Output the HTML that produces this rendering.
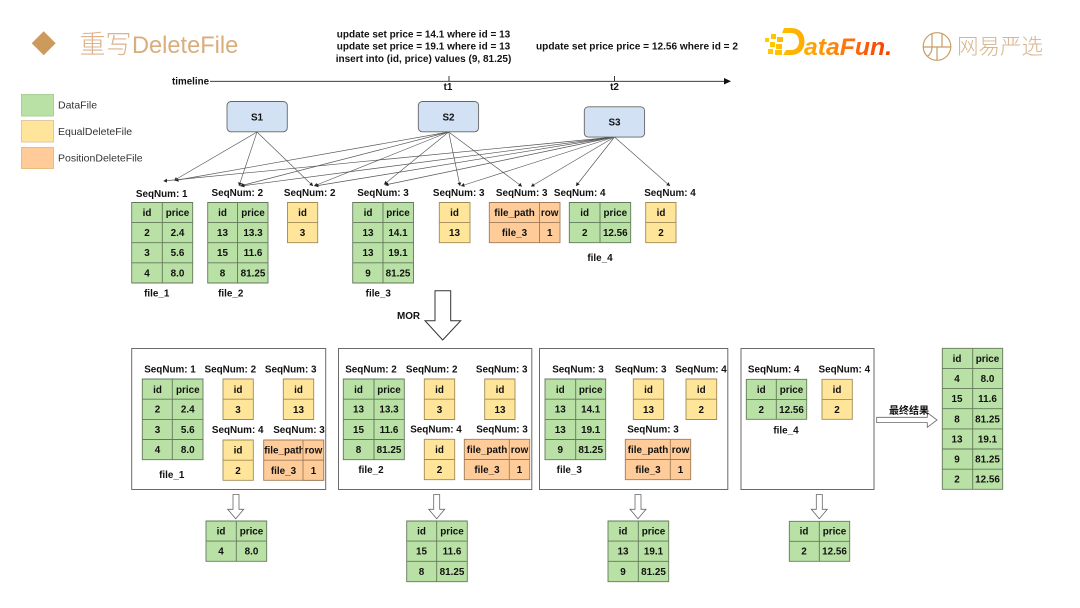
<!DOCTYPE html>
<html lang="zh"><head><meta charset="utf-8"><title>重写DeleteFile</title>
<style>
html,body{margin:0;padding:0;background:#fff;width:1080px;height:608px;overflow:hidden}
svg{display:block;filter:blur(.3px)}
text{font-family:"Liberation Sans","Noto Sans CJK SC",sans-serif;fill:#111}
.t{font-size:9.9px;font-weight:700;text-anchor:middle}
.q{font-size:10px;font-weight:700;text-anchor:middle}
.g{fill:#b9e0a5;stroke:#64785c;stroke-width:.9}
.y{fill:#ffe599;stroke:#a08a55;stroke-width:.9}
.o{fill:#ffcc99;stroke:#a07c58;stroke-width:.9}
.b{fill:#fff;stroke:#6a6a6a;stroke-width:1}
.c{fill:none;stroke:#555;stroke-width:.65;marker-end:url(#a)}
.s{fill:#d3e1f4;stroke:#666;stroke-width:.9}
.w{fill:#fff;stroke:#666;stroke-width:.8}
.l{font-size:10.5px;fill:#333}
</style></head><body>
<svg width="1080" height="608" viewBox="0 0 1080 608" xmlns="http://www.w3.org/2000/svg">
<defs>
<marker id="a" markerUnits="userSpaceOnUse" markerWidth="5" markerHeight="5" refX="3.5" refY="2" orient="auto"><path d="M0 0L3.5 2L0 4z" fill="#222"/></marker>
<linearGradient id="df" x1="765" x2="892" y1="0" y2="0" gradientUnits="userSpaceOnUse"><stop offset="0" stop-color="#ffcc00"/><stop offset=".35" stop-color="#ffa800"/><stop offset=".7" stop-color="#ff6a10"/><stop offset="1" stop-color="#f83a00"/></linearGradient>
</defs>

<!-- title -->
<path d="M43.7 31.3L55.7 43.3L43.7 55.3L31.7 43.3z" fill="#cb9a5c"/>
<text x="79.500" y="53.500" style="font-size:26px;font-weight:300;fill:#dcb38a">重写</text>
<text x="132" y="53" style="font-size:23.600px;fill:#d9ad7c">DeleteFile</text>

<!-- SQL -->
<text class="q" x="423.500" y="37.500">update set price = 14.1 where id = 13</text>
<text class="q" x="423.500" y="49.500">update set price = 19.1 where id = 13</text>
<text class="q" x="423.500" y="62">insert into (id, price) values (9, 81.25)</text>
<text x="637" y="49.500" style="font-size:10.100px;font-weight:700;text-anchor:middle">update set price price = 12.56 where id = 2</text>

<!-- logos -->
<g fill="url(#df)">
<path d="M765 38h4v4h-4zM771 34h5v5h-5zM777 37h6v5h-6zM770 42h5v5h-5zM776 44h6v5h-6zM768 49h5v5h-5zM775 50h7v5h-7z"/>
<path d="M784 28h7c9 0 13.500 6 13.500 13.500s-5 13.500-13.500 13.500h-8l3-5h5c5.500 0 8-4 8-8.500s-2.500-8.500-8-8.500h-9z"/>
</g>
<text x="804" y="55" style="font-size:24px;font-weight:700;font-style:italic;fill:url(#df)" textLength="88" lengthAdjust="spacingAndGlyphs">ataFun.</text>
<g fill="none" stroke="#c99c66" stroke-width="1.200"><circle cx="937" cy="46.500" r="13.800"/><path d="M923.500 47h27.500M932 33.500v13.500q0 7-5 9.500M942 33.500v13.500M937 47v13"/></g>
<text x="957" y="54" style="font-size:21.500px;font-weight:300;fill:#d8b48c">网易严选</text>

<!-- legend -->
<rect x="21.500" y="94.500" width="32" height="21.500" fill="#b9e0a5" stroke="#a9cf97"/>
<rect x="21.500" y="120.500" width="32" height="21.500" fill="#ffe599" stroke="#dfc8a8"/>
<rect x="21.500" y="147.500" width="32" height="21" fill="#ffcc99" stroke="#e6bf7f"/>
<text class="l" x="58" y="108.300">DataFile</text>
<text class="l" x="58" y="135">EqualDeleteFile</text>
<text class="l" x="58" y="161.700">PositionDeleteFile</text>

<!-- timeline -->
<text x="172" y="84.500" style="font-size:9.800px;font-weight:700">timeline</text>
<path d="M210 81.300H725M449 76V81.300M614.500 76V81.300" stroke="#222" stroke-width=".9" fill="none"/>
<path d="M724 78L731 81.300L724 84.500z" fill="#111"/>
<text class="t" x="448" y="90">t1</text>
<text class="t" x="614.500" y="90">t2</text>

<!-- connectors -->
<path class="c" d="M257 132L174 180.500"/>
<path class="c" d="M257 132L239 186"/>
<path class="c" d="M257 132L313 186"/>
<path class="c" d="M448.700 132L175 180.500"/>
<path class="c" d="M448.700 132L240 186"/>
<path class="c" d="M448.700 132L314 186"/>
<path class="c" d="M448.700 132L384 184.500"/>
<path class="c" d="M448.700 132L460 186"/>
<path class="c" d="M448.700 132L522 186.500"/>
<path class="c" d="M614.500 137L163.500 181"/>
<path class="c" d="M614.500 137L241 186"/>
<path class="c" d="M614.500 137L315 186"/>
<path class="c" d="M614.500 137L385 185"/>
<path class="c" d="M614.500 137L461 186"/>
<path class="c" d="M614.500 137L531 186.500"/>
<path class="c" d="M614.500 137L576 186"/>
<path class="c" d="M614.500 137L670 186"/>

<!-- S nodes -->
<rect class="s" x="227" y="101.500" width="60.300" height="30.300" rx="4"/>
<rect class="s" x="418.300" y="101.500" width="60.300" height="30.300" rx="4"/>
<rect class="s" x="584.300" y="106.800" width="60.300" height="30.300" rx="4"/>
<text class="t" x="257" y="120.500">S1</text>
<text class="t" x="448.500" y="120.500">S2</text>
<text class="t" x="614.500" y="125.500">S3</text>

<!-- top row labels -->
<text class="t" x="161.700" y="197">SeqNum: 1</text>
<text class="t" x="237.300" y="196">SeqNum: 2</text>
<text class="t" x="309.700" y="196">SeqNum: 2</text>
<text class="t" x="383" y="196">SeqNum: 3</text>
<text class="t" x="458.700" y="196">SeqNum: 3</text>
<text class="t" x="521.700" y="196">SeqNum: 3</text>
<text class="t" x="579.700" y="196">SeqNum: 4</text>
<text class="t" x="670" y="196">SeqNum: 4</text>

<!-- top tables -->
<path class="g" d="M131.700 202.500H192.700V283H131.700zM162.300 202.500V283M131.700 222.600H192.700M131.700 242.700H192.700M131.700 262.800H192.700"/>
<text class="t" x="147" y="216">id</text><text class="t" x="177.500" y="216">price</text>
<text class="t" x="147" y="236">2</text><text class="t" x="177.500" y="236">2.4</text>
<text class="t" x="147" y="256">3</text><text class="t" x="177.500" y="256">5.6</text>
<text class="t" x="147" y="276.500">4</text><text class="t" x="177.500" y="276.500">8.0</text>

<path class="g" d="M207.700 202.500H268V283H207.700zM237.500 202.500V283M207.700 222.600H268M207.700 242.700H268M207.700 262.800H268"/>
<text class="t" x="222.500" y="216">id</text><text class="t" x="253" y="216">price</text>
<text class="t" x="222.500" y="236">13</text><text class="t" x="253" y="236">13.3</text>
<text class="t" x="222.500" y="256">15</text><text class="t" x="253" y="256">11.6</text>
<text class="t" x="222.500" y="276.500">8</text><text class="t" x="253" y="276.500">81.25</text>

<path class="y" d="M287.500 202.500H317.700V242.700H287.500zM287.500 222.600H317.700"/>
<text class="t" x="302.500" y="216">id</text><text class="t" x="302.500" y="236">3</text>

<path class="g" d="M352.700 202.500H413.500V283H352.700zM383 202.500V283M352.700 222.600H413.500M352.700 242.700H413.500M352.700 262.800H413.500"/>
<text class="t" x="368" y="216">id</text><text class="t" x="398" y="216">price</text>
<text class="t" x="368" y="236">13</text><text class="t" x="398" y="236">14.1</text>
<text class="t" x="368" y="256">13</text><text class="t" x="398" y="256">19.1</text>
<text class="t" x="368" y="276.500">9</text><text class="t" x="398" y="276.500">81.25</text>

<path class="y" d="M439.300 202.500H470V242.700H439.300zM439.300 222.600H470"/>
<text class="t" x="454.500" y="216">id</text><text class="t" x="454.500" y="236">13</text>

<path class="o" d="M489.300 202.500H560V242.700H489.300zM539.500 202.500V242.700M489.300 222.600H560"/>
<text class="t" x="514.500" y="216">file_path</text><text class="t" x="549.700" y="216">row</text>
<text class="t" x="514.500" y="236">file_3</text><text class="t" x="549.700" y="236">1</text>

<path class="g" d="M569.300 202.500H630.700V242.700H569.300zM600 202.500V242.700M569.300 222.600H630.700"/>
<text class="t" x="584.700" y="216">id</text><text class="t" x="615.300" y="216">price</text>
<text class="t" x="584.700" y="236">2</text><text class="t" x="615.300" y="236">12.56</text>

<path class="y" d="M645.700 202.500H676V242.700H645.700zM645.700 222.600H676"/>
<text class="t" x="661" y="216">id</text><text class="t" x="661" y="236">2</text>

<text class="t" x="156.700" y="296.500">file_1</text>
<text class="t" x="230.700" y="296.500">file_2</text>
<text class="t" x="378.300" y="296.500">file_3</text>
<text class="t" x="600" y="261">file_4</text>

<!-- MOR -->
<text class="t" x="408.500" y="319">MOR</text>
<path d="M435 290.700H450.700V320.700H460.700L442.700 340L425 320.700H435z" fill="#fff" stroke="#333" stroke-width="1"/>

<!-- boxes -->
<rect class="b" x="131.700" y="348.500" width="194" height="141"/>
<rect class="b" x="338.500" y="348.500" width="193.300" height="141"/>
<rect class="b" x="539.500" y="348.500" width="188.300" height="141"/>
<rect class="b" x="741" y="348.500" width="133" height="141"/>

<!-- box 1 -->
<text class="t" x="170" y="372.500">SeqNum: 1</text>
<text class="t" x="230.300" y="372.500">SeqNum: 2</text>
<text class="t" x="290.700" y="372.500">SeqNum: 3</text>
<text class="t" x="237.700" y="433">SeqNum: 4</text>
<text class="t" x="299" y="433">SeqNum: 3</text>
<path class="g" d="M142.300 379H203V459.700H142.300zM172.300 379V459.700M142.300 399.200H203M142.300 419.400H203M142.300 439.500H203"/>
<text class="t" x="157.500" y="392.800">id</text><text class="t" x="187.800" y="392.800">price</text>
<text class="t" x="157.500" y="412.500">2</text><text class="t" x="187.800" y="412.500">2.4</text>
<text class="t" x="157.500" y="433">3</text><text class="t" x="187.800" y="433">5.6</text>
<text class="t" x="157.500" y="452.800">4</text><text class="t" x="187.800" y="452.800">8.0</text>
<path class="y" d="M223 379H253.300V419.500H223zM223 399.200H253.300"/>
<text class="t" x="238" y="392.800">id</text><text class="t" x="238" y="413">3</text>
<path class="y" d="M283.300 379H313.700V419.500H283.300zM283.300 399.200H313.700"/>
<text class="t" x="298.500" y="392.800">id</text><text class="t" x="298.500" y="413">13</text>
<path class="y" d="M223 440H253.300V480.300H223zM223 460.200H253.300"/>
<text class="t" x="238" y="453.500">id</text><text class="t" x="238" y="473.800">2</text>
<path class="o" d="M263.700 440H323.700V480.300H263.700zM263.700 460.200H323.700"/>
<text class="t" x="284.500" y="453.500">file_path</text>
<path class="o" d="M303 440H323.700V460.200H303z"/>
<path class="o" d="M303 460.200H323.700V480.300H303z"/>
<text class="t" x="313.500" y="453.500">row</text>
<text class="t" x="283.500" y="473.800">file_3</text><text class="t" x="313.500" y="473.800">1</text>
<text class="t" x="171.700" y="478">file_1</text>

<!-- box 2 -->
<text class="t" x="371" y="372.500">SeqNum: 2</text>
<text class="t" x="431.700" y="372.500">SeqNum: 2</text>
<text class="t" x="501.700" y="372.500">SeqNum: 3</text>
<text class="t" x="436" y="432.500">SeqNum: 4</text>
<text class="t" x="502" y="432.500">SeqNum: 3</text>
<path class="g" d="M343.300 379H404.300V459.700H343.300zM374 379V459.700M343.300 399.200H404.300M343.300 419.400H404.300M343.300 439.500H404.300"/>
<text class="t" x="358.500" y="392.800">id</text><text class="t" x="389" y="392.800">price</text>
<text class="t" x="358.500" y="412.500">13</text><text class="t" x="389" y="412.500">13.3</text>
<text class="t" x="358.500" y="433">15</text><text class="t" x="389" y="433">11.6</text>
<text class="t" x="358.500" y="452.800">8</text><text class="t" x="389" y="452.800">81.25</text>
<path class="y" d="M424.300 379H454.700V419.500H424.300zM424.300 399.200H454.700"/>
<text class="t" x="439.500" y="392.800">id</text><text class="t" x="439.500" y="413">3</text>
<path class="y" d="M484.700 379H515V419.500H484.700zM484.700 399.200H515"/>
<text class="t" x="500" y="392.800">id</text><text class="t" x="500" y="413">13</text>
<path class="y" d="M424.300 439.300H454.700V479.700H424.300zM424.300 459.500H454.700"/>
<text class="t" x="439.500" y="453">id</text><text class="t" x="439.500" y="473">2</text>
<path class="o" d="M464.300 439.300H529.700V479.700H464.300zM509.300 439.300V479.700M464.300 459.500H529.700"/>
<text class="t" x="487" y="453">file_path</text><text class="t" x="519.500" y="453">row</text>
<text class="t" x="487" y="473">file_3</text><text class="t" x="519.500" y="473">1</text>
<text class="t" x="371" y="473">file_2</text>

<!-- box 3 -->
<text class="t" x="578" y="372.500">SeqNum: 3</text>
<text class="t" x="640.700" y="372.500">SeqNum: 3</text>
<text class="t" x="701" y="372.500">SeqNum: 4</text>
<text class="t" x="653" y="432.500">SeqNum: 3</text>
<path class="g" d="M545 379H605.700V459.700H545zM575.700 379V459.700M545 399.200H605.700M545 419.400H605.700M545 439.500H605.700"/>
<text class="t" x="560.300" y="392.800">id</text><text class="t" x="590.700" y="392.800">price</text>
<text class="t" x="560.300" y="412.500">13</text><text class="t" x="590.700" y="412.500">14.1</text>
<text class="t" x="560.300" y="433">13</text><text class="t" x="590.700" y="433">19.1</text>
<text class="t" x="560.300" y="452.800">9</text><text class="t" x="590.700" y="452.800">81.25</text>
<path class="y" d="M633.300 379H663.700V419.500H633.300zM633.300 399.200H663.700"/>
<text class="t" x="648.500" y="392.800">id</text><text class="t" x="648.500" y="413">13</text>
<path class="y" d="M686 379H716.700V419.500H686zM686 399.200H716.700"/>
<text class="t" x="701.300" y="392.800">id</text><text class="t" x="701.300" y="413">2</text>
<path class="o" d="M625.300 439.300H690.700V479.700H625.300zM670.300 439.300V479.700M625.300 459.500H690.700"/>
<text class="t" x="648" y="453">file_path</text><text class="t" x="680.500" y="453">row</text>
<text class="t" x="648" y="473">file_3</text><text class="t" x="680.500" y="473">1</text>
<text class="t" x="569.300" y="473">file_3</text>

<!-- box 4 -->
<text class="t" x="773.700" y="372.500">SeqNum: 4</text>
<text class="t" x="844.300" y="372.500">SeqNum: 4</text>
<path class="g" d="M746.300 379.300H806.700V419.300H746.300zM776.300 379.300V419.300M746.300 399.400H806.700"/>
<text class="t" x="761.300" y="392.800">id</text><text class="t" x="791.500" y="392.800">price</text>
<text class="t" x="761.300" y="412.800">2</text><text class="t" x="791.500" y="412.800">12.56</text>
<path class="y" d="M822 379.300H852.300V419.300H822zM822 399.400H852.300"/>
<text class="t" x="837" y="392.800">id</text><text class="t" x="837" y="412.800">2</text>
<text class="t" x="786" y="433.500">file_4</text>

<!-- down arrows -->
<path class="w" d="M233 494.500H239V509.300H243.700L235.700 518.700L227.700 509.300H233z"/>
<path class="w" d="M433.700 494.500H439.700V509.300H444.700L436.700 518.700L428.700 509.300H433.700z"/>
<path class="w" d="M635 494.500H641V509.300H646L638 518.700L630 509.300H635z"/>
<path class="w" d="M816.300 494.500H822.300V509.300H827.300L819.300 518.700L811.300 509.300H816.300z"/>

<!-- result tables -->
<path class="g" d="M206 521H266.700V561.300H206zM236.300 521V561.300M206 541.100H266.700"/>
<text class="t" x="221" y="534.500">id</text><text class="t" x="251.500" y="534.500">price</text>
<text class="t" x="221" y="554.500">4</text><text class="t" x="251.500" y="554.500">8.0</text>

<path class="g" d="M406.700 521H467.300V581.700H406.700zM436.700 521V581.700M406.700 541.100H467.300M406.700 561.300H467.300"/>
<text class="t" x="421.500" y="534.500">id</text><text class="t" x="452" y="534.500">price</text>
<text class="t" x="421.500" y="554.500">15</text><text class="t" x="452" y="554.500">11.6</text>
<text class="t" x="421.500" y="575">8</text><text class="t" x="452" y="575">81.25</text>

<path class="g" d="M608 521H668.700V581.700H608zM638.300 521V581.700M608 541.100H668.700M608 561.300H668.700"/>
<text class="t" x="623" y="534.500">id</text><text class="t" x="653.500" y="534.500">price</text>
<text class="t" x="623" y="554.500">13</text><text class="t" x="653.500" y="554.500">19.1</text>
<text class="t" x="623" y="575">9</text><text class="t" x="653.500" y="575">81.25</text>

<path class="g" d="M789.300 521.300H849.700V561.300H789.300zM819.300 521.300V561.300M789.300 541.300H849.700"/>
<text class="t" x="804" y="534.500">id</text><text class="t" x="834.500" y="534.500">price</text>
<text class="t" x="804" y="554.500">2</text><text class="t" x="834.500" y="554.500">12.56</text>

<!-- final arrow + table -->
<path class="w" d="M876.700 417.300H927.300V412.700L937 420L927.300 427.300V422.600H876.700z"/>
<text x="909" y="414" style="font-size:10px;font-weight:700;text-anchor:middle">最终结果</text>
<path class="g" d="M942.300 348.300H1002.700V489.300H942.300zM972.700 348.300V489.300M942.300 368.400H1002.700M942.300 388.600H1002.700M942.300 408.700H1002.700M942.300 428.900H1002.700M942.300 449H1002.700M942.300 469.200H1002.700"/>
<text class="t" x="957" y="361.900">id</text><text class="t" x="987.500" y="361.900">price</text>
<text class="t" x="957" y="382">4</text><text class="t" x="987.500" y="382">8.0</text>
<text class="t" x="957" y="402.200">15</text><text class="t" x="987.500" y="402.200">11.6</text>
<text class="t" x="957" y="422.300">8</text><text class="t" x="987.500" y="422.300">81.25</text>
<text class="t" x="957" y="442.400">13</text><text class="t" x="987.500" y="442.400">19.1</text>
<text class="t" x="957" y="462.600">9</text><text class="t" x="987.500" y="462.600">81.25</text>
<text class="t" x="957" y="482.700">2</text><text class="t" x="987.500" y="482.700">12.56</text>
</svg>
</body></html>
